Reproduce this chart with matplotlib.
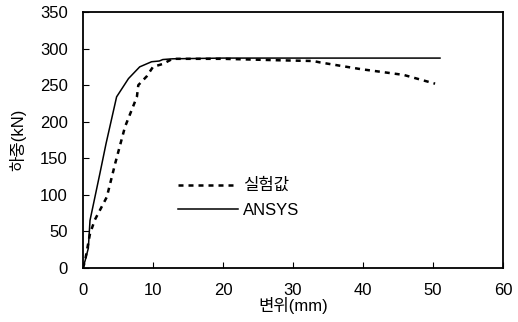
import matplotlib
matplotlib.use('Agg')
import matplotlib.pyplot as plt

plt.rcParams['font.family'] = ['Liberation Sans', 'Noto Sans CJK KR']

# 실험값 (experiment)
exp_x = [0, 0.3, 1.0, 1.7, 3.4, 4.6, 6.0, 6.5, 7.7, 7.9, 9.1, 10.0, 11.4, 12.8,
         20, 28, 32.9, 33.9, 39.6, 45.8, 50.3]
exp_y = [0, 10, 47, 66, 97, 143, 193, 205, 234, 250, 262, 275, 279, 286,
         286, 284, 283, 281, 272, 264, 252]

# ANSYS
ans_x = [0, 0.3, 0.76, 1.0, 2.43, 3.29, 4.8, 6.5, 8.1, 9.8, 10.9, 11.4, 12.8, 20, 51]
ans_y = [0, 10, 27, 65, 130, 170, 234, 259, 275, 282, 283, 285, 286, 287, 287]

fig = plt.figure(figsize=(5.18, 3.22), dpi=100)
ax = fig.add_axes([83/518, 1 - 268/322, 420/518, 256/322])

ax.plot(exp_x, exp_y, color='black', lw=1.8, linestyle=(0, (2, 2)), label='실험값')
ax.plot(ans_x, ans_y, color='black', lw=1.1, label='ANSYS')

ax.set_xlim(0, 60)
ax.set_ylim(0, 350)
ax.set_xticks(range(0, 61, 10))
ax.set_yticks(range(0, 351, 50))
ax.tick_params(direction='in', length=4, labelsize=12, pad=11, width=0.8)
for s in ax.spines.values():
    s.set_linewidth(1.3)

ax.set_xlabel('변위(mm)', fontsize=12, labelpad=-1)
ax.set_ylabel('하중(kN)', fontsize=12, labelpad=10)

ax.legend(loc='upper left', bbox_to_anchor=(0.19, 0.41), frameon=False,
          fontsize=12, handlelength=3.6, handletextpad=0.3, labelspacing=0.55)

fig.savefig('out.png', dpi=100)
